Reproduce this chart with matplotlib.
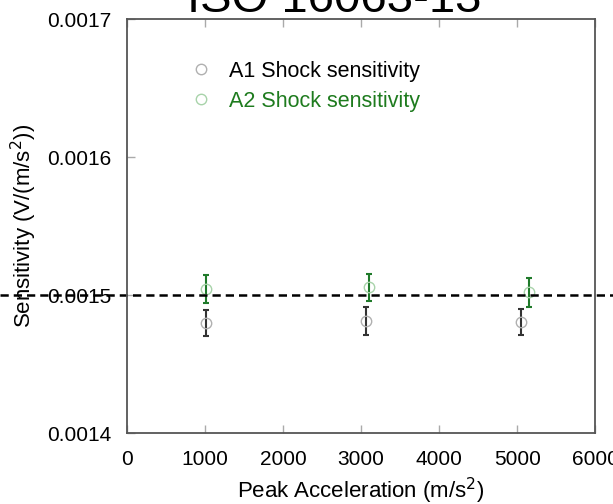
import numpy as np
import matplotlib
matplotlib.use("Agg")
import matplotlib.pyplot as plt
from matplotlib.transforms import blended_transform_factory

plt.rcParams['font.family'] = ['Liberation Sans', 'DejaVu Sans']

# data
a1_acc = [1015, 3065, 5045]
a1_sens = [0.0014797, 0.0014816, 0.0014804]
a1_err = [0.0000094, 0.0000100, 0.0000094]

a2_acc = [1013, 3098, 5151]
a2_sens = [0.0015046, 0.0015058, 0.0015022]
a2_err = [0.0000098, 0.0000097, 0.0000103]

nominal = 0.0015
xticks = [0, 1000, 2000, 3000, 4000, 5000, 6000]
yticks = [0.0014, 0.0015, 0.0016, 0.0017]

fig = plt.figure(figsize=(6.13, 5.04), dpi=100)
ax = fig.add_axes([0.207, 0.140, 0.764, 0.822])

ax.errorbar(a1_acc, a1_sens, yerr=a1_err, fmt='none', ecolor='#333333',
            elinewidth=1.5, capsize=2.5, capthick=1.5)
ax.errorbar(a2_acc, a2_sens, yerr=a2_err, fmt='none', ecolor='#1f7a2a',
            elinewidth=1.5, capsize=2.5, capthick=1.5)
ax.plot(a1_acc, a1_sens, 'o', mfc='none', mec='#b0b0b0', ms=7.5, mew=1,
        label='A1 Shock sensitivity')
ax.plot(a2_acc, a2_sens, 'o', mfc='none', mec='#a8d3aa', ms=7.5, mew=1,
        label='A2 Shock sensitivity')

# dashed reference line across the whole figure
tr = blended_transform_factory(fig.transFigure, ax.transData)
ax.plot([0, 1], [nominal, nominal], '--', color='black', lw=1.8,
        dashes=(3.3, 2), transform=tr, clip_on=False)

ax.set_xlim(0, 6000)
ax.set_ylim(0.0014, 0.0017)
ax.set_xticks(xticks)
ax.set_yticks(yticks)
ax.set_yticklabels(['0.0014', '0.0015', '0.0016', '0.0017'])
ax.tick_params(direction='in', length=6, width=1, color='#aaaaaa',
               labelsize=15, pad=12, top=True)
ax.tick_params(axis='y', pad=11)
for s in ax.spines.values():
    s.set_color('#555555')
    s.set_linewidth(1.3)

ax.set_xlabel('Peak Acceleration (m/s$^2$)', fontsize=16, labelpad=5)
ax.set_ylabel('Sensitivity (V/(m/s$^2$))', fontsize=16, labelpad=6)

leg = ax.legend(loc='upper left', bbox_to_anchor=(0.11, 0.925), frameon=False,
                fontsize=15.5, handlelength=1.1, handletextpad=0.75,
                labelspacing=0.42, borderpad=0)
leg.get_texts()[0].set_color('black')
leg.get_texts()[1].set_color('#1e7b1e')

fig.text(0.546, 0.976, 'ISO 16063-13', fontsize=34, ha='center',
         va='baseline')

fig.savefig('out.png', dpi=100)
